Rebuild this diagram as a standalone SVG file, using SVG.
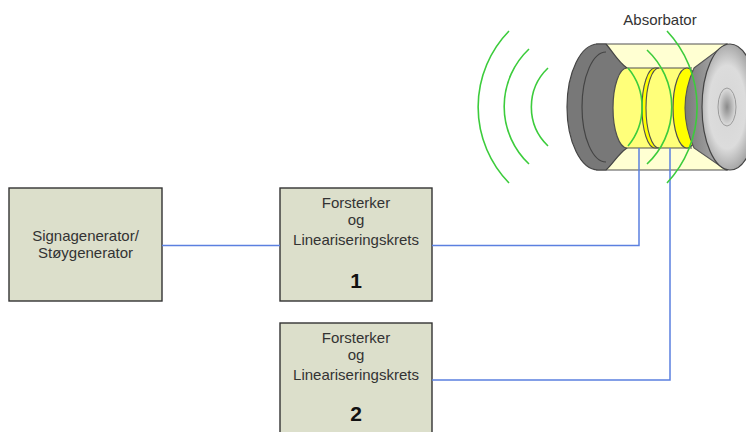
<svg xmlns="http://www.w3.org/2000/svg" width="746" height="432" viewBox="0 0 746 432">
  <style>
    .box { fill: #dcdfcb; stroke: #333; stroke-width: 1.4; }
    .lbl { font-family: "Liberation Sans", Arial, sans-serif; font-size: 15px; fill: #333; text-anchor: middle; }
    .num { font-family: "Liberation Sans", Arial, sans-serif; font-size: 21px; font-weight: bold; fill: #111; text-anchor: middle; }
    .wire { fill: none; stroke: #5b80e0; stroke-width: 1.5; }
    .wave { fill: none; stroke: #3ccc3c; stroke-width: 1.6; }
    .edge { stroke: #505050; stroke-width: 1.2; }
  </style>
  <defs>
    <linearGradient id="coneGrad" x1="0" y1="0" x2="1" y2="0">
      <stop offset="0" stop-color="#7a7a7a"/>
      <stop offset="1" stop-color="#b4b4b4"/>
    </linearGradient>
    <radialGradient id="diskGrad" cx="0.45" cy="0.5" r="0.6">
      <stop offset="0" stop-color="#d6d6d6"/>
      <stop offset="0.55" stop-color="#dcdcdc"/>
      <stop offset="1" stop-color="#8c8c8c"/>
    </radialGradient>
    <radialGradient id="hubGrad" cx="0.5" cy="0.5" r="0.5">
      <stop offset="0" stop-color="#8a8a8a"/>
      <stop offset="1" stop-color="#dedede"/>
    </radialGradient>
  </defs>

  <rect width="746" height="432" fill="#ffffff"/>

  <!-- absorber tube -->
  <g id="absorber">
    <!-- outer translucent shell -->
    <rect x="596" y="44" width="132" height="126" fill="#ffffd2"/>
    <line class="edge" x1="596" y1="44" x2="728" y2="44"/>
    <line class="edge" x1="596" y1="170" x2="728" y2="170"/>
    <!-- left horn -->
    <path d="M598,44 L606,44 C613,52 618,62 627,68 L627,148 C618,154 613,164 606,170 L598,170 A31 63 0 0 1 598,44 Z" fill="#787878" stroke="#444" stroke-width="1.2"/>
    <path d="M606,52 A24 55 0 0 0 606,162" fill="none" stroke="#444" stroke-width="1.2"/>
    <!-- inner sample cylinder -->
    <path d="M627,68 L690,68 L690,148 L627,148 A14 40 0 0 1 627,68 Z" fill="#ffff7a"/>
    <line class="edge" x1="627" y1="68" x2="692" y2="68"/>
    <line class="edge" x1="627" y1="148" x2="692" y2="148"/>
    <path d="M627,68 A14 40 0 0 0 627,148" fill="none" stroke="#505050" stroke-width="1.2"/>
    <!-- thin ring -->
    <path d="M655,68 A13 40 0 0 0 655,148 L659,148 A13 40 0 0 1 659,68 Z" fill="#ffff00" stroke="#505050" stroke-width="1.1"/>
    <!-- end face -->
    <ellipse cx="687" cy="108" rx="14" ry="40" fill="#ffff00" stroke="#505050" stroke-width="1.2"/>
    <!-- right horn -->
    <path d="M694,68 L726,44 L726,170 L694,148 Q676,108 694,68 Z" fill="url(#coneGrad)" stroke="#555" stroke-width="1.1"/>
    <ellipse cx="730" cy="107" rx="28" ry="63" fill="url(#diskGrad)" stroke="#444" stroke-width="1.2"/>
    <ellipse cx="727" cy="107" rx="9" ry="19" fill="url(#hubGrad)" stroke="#9a9a9a" stroke-width="1"/>
  </g>

  <text class="lbl" x="660" y="25">Absorbator</text>

  <g id="gen">
    <rect class="box" x="9" y="188" width="153" height="113"/>
    <text class="lbl" x="85.5" y="241">Signagenerator/</text>
    <text class="lbl" x="85.5" y="258">Støygenerator</text>
  </g>

  <g id="amp1">
    <rect class="box" x="280" y="188" width="152" height="113"/>
    <text class="lbl" x="356" y="208">Forsterker</text>
    <text class="lbl" x="356" y="225">og</text>
    <text class="lbl" x="356" y="245">Lineariseringskrets</text>
    <text class="num" x="356" y="288">1</text>
  </g>

  <g id="amp2">
    <rect class="box" x="280" y="323" width="152" height="120"/>
    <text class="lbl" x="356" y="343">Forsterker</text>
    <text class="lbl" x="356" y="360">og</text>
    <text class="lbl" x="356" y="380">Lineariseringskrets</text>
    <text class="num" x="356" y="421">2</text>
  </g>

  <g id="connectors">
    <line class="wire" x1="162" y1="245.5" x2="280" y2="245.5"/>
    <polyline class="wire" points="432,245.5 639,245.5 639,148"/>
    <polyline class="wire" points="432,380 670,380 670,148"/>
  </g>

  <!-- sound waves -->
  <g id="waves">
    <path class="wave" d="M509,31 A109 109 0 0 0 509,183"/>
    <path class="wave" d="M529,49 A79 79 0 0 0 529,164"/>
    <path class="wave" d="M548,68 A54 54 0 0 0 548,146"/>
    <path class="wave" d="M667,31 A111 111 0 0 1 667,183"/>
    <path class="wave" d="M647,50 A78 78 0 0 1 647,164"/>
    <path class="wave" d="M628,68 A61 61 0 0 1 628,146"/>
  </g>
</svg>
